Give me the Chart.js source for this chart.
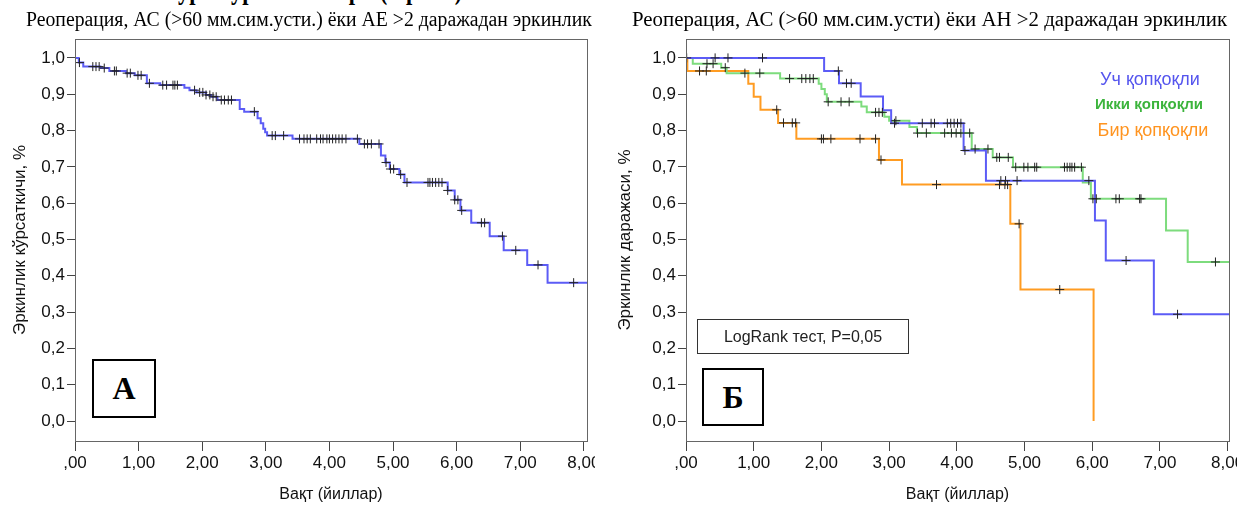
<!DOCTYPE html>
<html>
<head>
<meta charset="utf-8">
<script src="https://cdn.jsdelivr.net/npm/chart.js@4.4.0/dist/chart.umd.min.js"></script>
<style>
  html, body { margin: 0; padding: 0; background: #fff; }
  body { width: 1237px; height: 508px; position: relative; overflow: hidden; font-family: "Liberation Sans", Arial, sans-serif; }
  canvas { position: absolute; top: 0; }
  #leftChart { left: 0; }
  #rightChart { left: 615px; }
  .title { position: absolute; top: 8px; font-family: "Liberation Serif", "Times New Roman", serif; font-size: 20px; white-space: nowrap; transform-origin: 0 0; color: #000; }
  .cut { position: absolute; top: -28px; left: 178px; font-family: "Liberation Serif", serif; font-weight: bold; font-size: 30px; white-space: nowrap; transform-origin: 0 0; }
  .tag { position: absolute; border: 2px solid #000; box-sizing: border-box; font-family: "Liberation Serif", serif; font-weight: bold; font-size: 32px; display: flex; align-items: center; justify-content: center; background: #fff; }
  .legend { position: absolute; white-space: nowrap; transform: translateX(-50%); }
  .logrank { position: absolute; left: 697px; top: 319px; width: 212px; height: 35px; border: 1.5px solid #333; box-sizing: border-box; font-size: 16px; color: #222; display: flex; align-items: center; justify-content: center; }
</style>
</head>
<body>
<div class="cut" id="cutLine">урт кўрсаткичлари (2-расм)</div>
<canvas id="leftChart" width="595" height="508"></canvas>
<canvas id="rightChart" width="622" height="508"></canvas>
<div class="title" id="titleLeft" style="left:26px">Реоперация, АС (&gt;60 мм.сим.усти.) ёки АЕ &gt;2 даражадан эркинлик</div>
<div class="title" id="titleRight" style="left:632px">Реоперация, АС (&gt;60 мм.сим.усти) ёки АН &gt;2 даражадан эркинлик</div>
<div class="tag" style="left:92px; top:359px; width:64px; height:59px;">А</div>
<div class="tag" style="left:702px; top:368px; width:62px; height:58px;">Б</div>
<div class="logrank">LogRank тест, P=0,05</div>
<div class="legend" style="left:1150px; top:69px; font-size:18px; color:#5555ee;">Уч қопқоқли</div>
<div class="legend" style="left:1149px; top:95px; font-size:15px; font-weight:bold; color:#3cb43c;">Икки қопқоқли</div>
<div class="legend" style="left:1153px; top:120px; font-size:18px; color:#ff9420;">Бир қопқоқли</div>

<script>
// --- data ---
const yTickValues = [0, 0.1, 0.2, 0.3, 0.4, 0.5, 0.6, 0.7, 0.8, 0.9, 1.0];
const yTickLabels = ['0,0', '0,1', '0,2', '0,3', '0,4', '0,5', '0,6', '0,7', '0,8', '0,9', '1,0'];
const xTickValues = [0, 1, 2, 3, 4, 5, 6, 7, 8];
const xTickLabels = [',00', '1,00', '2,00', '3,00', '4,00', '5,00', '6,00', '7,00', '8,00'];

// panel A: one curve
const allTimes = [0, 0.06, 0.13, 0.40, 0.54, 0.80, 0.94, 1.13, 1.34, 1.72, 1.80, 1.91, 2.06, 2.14, 2.24, 2.59, 2.66, 2.87, 2.92, 2.96, 2.99, 3.02, 3.42, 4.47, 4.81, 4.88, 4.95, 5.10, 5.18, 5.86, 5.97, 6.06, 6.23, 6.52, 6.74, 7.11, 7.43, 8.05];
const allSurv = [1.0, 0.987, 0.976, 0.972, 0.964, 0.958, 0.952, 0.930, 0.925, 0.918, 0.911, 0.905, 0.898, 0.893, 0.884, 0.859, 0.852, 0.834, 0.820, 0.805, 0.795, 0.786, 0.777, 0.763, 0.731, 0.712, 0.694, 0.679, 0.657, 0.635, 0.609, 0.580, 0.546, 0.509, 0.470, 0.430, 0.381, 0.381];
const allCensored = [0.07, 0.28, 0.33, 0.38, 0.46, 0.62, 0.65, 0.82, 0.87, 0.99, 1.04, 1.17, 1.38, 1.44, 1.54, 1.57, 1.61, 1.88, 1.96, 2.01, 2.06, 2.12, 2.17, 2.22, 2.30, 2.35, 2.41, 2.46, 2.82, 3.10, 3.15, 3.28, 3.53, 3.60, 3.65, 3.70, 3.80, 3.86, 3.90, 3.96, 4.00, 4.05, 4.10, 4.15, 4.20, 4.26, 4.44, 4.55, 4.60, 4.66, 4.78, 4.89, 4.96, 5.01, 5.12, 5.22, 5.55, 5.58, 5.62, 5.67, 5.72, 5.77, 5.86, 5.97, 6.02, 6.08, 6.39, 6.44, 6.72, 6.93, 7.28, 7.84];

// panel Б: three groups
const uchTimes = [0, 2.04, 2.26, 2.58, 2.91, 3.03, 4.10, 4.43, 6.04, 6.20, 6.91, 8.02];
const uchSurv = [1.0, 0.964, 0.930, 0.894, 0.856, 0.820, 0.745, 0.662, 0.552, 0.442, 0.294, 0.294];
const uchCensored = [0.01, 0.43, 0.62, 1.13, 2.25, 2.37, 2.44, 3.08, 3.49, 3.62, 3.67, 3.86, 3.91, 3.96, 4.01, 4.06, 4.12, 4.65, 4.72, 4.89, 5.95, 6.50, 7.26];

const ikkiTimes = [0, 0.10, 0.52, 0.60, 1.39, 1.96, 2.00, 2.05, 2.08, 2.59, 2.67, 2.93, 3.00, 3.30, 3.41, 4.22, 4.53, 4.83, 5.86, 5.98, 7.09, 7.41, 8.02];
const ikkiSurv = [1.0, 0.984, 0.973, 0.958, 0.943, 0.929, 0.914, 0.900, 0.879, 0.866, 0.850, 0.838, 0.827, 0.810, 0.793, 0.749, 0.726, 0.699, 0.657, 0.612, 0.525, 0.438, 0.438];
const ikkiCensored = [0.31, 0.40, 0.58, 0.87, 1.09, 1.53, 1.71, 1.77, 1.83, 1.88, 2.10, 2.29, 2.41, 2.80, 2.85, 2.90, 3.10, 3.42, 3.55, 3.82, 3.92, 3.99, 4.06, 4.19, 4.27, 4.46, 4.59, 4.63, 4.76, 4.87, 4.99, 5.05, 5.15, 5.18, 5.59, 5.63, 5.67, 5.70, 5.74, 5.84, 6.01, 6.06, 6.35, 6.40, 6.70, 6.72, 7.82];

const birTimes = [0, 0.02, 0.92, 1.00, 1.10, 1.36, 1.63, 2.85, 3.19, 4.79, 4.94, 6.02];
const birSurv = [1.0, 0.964, 0.929, 0.893, 0.857, 0.821, 0.777, 0.719, 0.651, 0.543, 0.362, 0.0];
const birCensored = [0.20, 0.30, 1.34, 1.44, 1.57, 1.62, 2.00, 2.03, 2.14, 2.57, 2.80, 2.88, 3.70, 4.63, 4.71, 4.75, 4.92, 5.52];

// value of a step curve at time t (for placing the censor crosses)
function survAt(times, surv, t) {
  let s = surv[0];
  for (let i = 0; i < times.length; i++) {
    if (times[i] <= t) s = surv[i];
  }
  return s;
}

function curve(times, surv, color) {
  return {
    type: 'line',
    data: times.map((t, i) => ({ x: t, y: surv[i] })),
    stepped: true,
    borderColor: color,
    borderWidth: 2,
    pointRadius: 0,
    fill: false,
    order: 1
  };
}

function censors(times, surv, marks) {
  return {
    type: 'scatter',
    data: marks.map(t => ({ x: t, y: survAt(times, surv, t) })),
    pointStyle: 'cross',
    pointRadius: 4.5,
    borderColor: '#222',
    borderWidth: 1,
    order: 0
  };
}

// frame around the plot area
const framePlugin = {
  id: 'frame',
  afterDraw(chart) {
    const { ctx, chartArea: a } = chart;
    ctx.save();
    ctx.strokeStyle = '#666';
    ctx.lineWidth = 1;
    ctx.strokeRect(Math.round(a.left) + 0.5, Math.round(a.top) + 0.5, Math.round(a.right - a.left), Math.round(a.bottom - a.top));
    ctx.restore();
  }
};

const tickFont = { family: '"Liberation Sans", Arial, sans-serif', size: 17 };
const titleFont = { family: '"Liberation Sans", Arial, sans-serif', size: 16 };
const yTitleFont = { family: '"Liberation Sans", Arial, sans-serif', size: 17 };

function makeOptions(xMax, yWidth, yTitle, yTitlePad, padRight) {
  return {
    responsive: false,
    animation: false,
    events: [],
    layout: { padding: { top: 39, left: 0, right: padRight, bottom: 0 } },
    plugins: { legend: { display: false }, tooltip: { enabled: false } },
    scales: {
      x: {
        type: 'linear',
        min: 0,
        max: xMax,
        afterBuildTicks: s => { s.ticks = xTickValues.map(v => ({ value: v })); },
        afterFit: s => { s.height = 67; s.paddingLeft = 0; s.paddingRight = 0; },
        ticks: { callback: v => xTickLabels[xTickValues.indexOf(v)], font: tickFont, color: '#111', padding: 2, maxRotation: 0, autoSkip: false },
        grid: { drawOnChartArea: false, tickLength: 10, color: '#444' },
        border: { color: '#444' },
        title: { display: true, text: 'Вақт (йиллар)', font: titleFont, color: '#111', padding: { top: 0, bottom: 4 } }
      },
      y: {
        type: 'linear',
        min: -0.055,
        max: 1.052,
        afterBuildTicks: s => { s.ticks = yTickValues.map(v => ({ value: v })); },
        afterFit: s => { s.width = yWidth; s.paddingTop = 0; s.paddingBottom = 0; },
        ticks: { callback: v => yTickLabels[Math.round(v * 10)], font: tickFont, color: '#111', padding: 2 },
        grid: { drawOnChartArea: false, tickLength: 8, color: '#444' },
        border: { color: '#444' },
        title: { display: true, text: yTitle, font: yTitleFont, color: '#111', padding: { top: yTitlePad, bottom: 0 } }
      }
    }
  };
}

new Chart(document.getElementById('leftChart'), {
  type: 'line',
  data: {
    datasets: [
      censors(allTimes, allSurv, allCensored),
      curve(allTimes, allSurv, '#5c5cf6')
    ]
  },
  options: makeOptions(8.05, 75, 'Эркинлик кўрсаткичи, %', 10, 8),
  plugins: [framePlugin]
});

new Chart(document.getElementById('rightChart'), {
  type: 'line',
  data: {
    datasets: [
      censors(uchTimes, uchSurv, uchCensored),
      censors(ikkiTimes, ikkiSurv, ikkiCensored),
      censors(birTimes, birSurv, birCensored),
      curve(uchTimes, uchSurv, '#5c5cf6'),
      curve(ikkiTimes, ikkiSurv, '#7ddc7d'),
      curve(birTimes, birSurv, '#ff9c22')
    ]
  },
  options: makeOptions(8.02, 71, 'Эркинлик даражаси, %', 0, 8),
  plugins: [framePlugin]
});

// squeeze the serif titles to the width they have in the picture
function fitWidth(id, w) {
  const el = document.getElementById(id);
  el.style.transform = 'scaleX(' + (w / el.offsetWidth) + ')';
}
fitWidth('titleLeft', 566);
fitWidth('titleRight', 595);
fitWidth('cutLine', 284);
</script>
</body>
</html>
